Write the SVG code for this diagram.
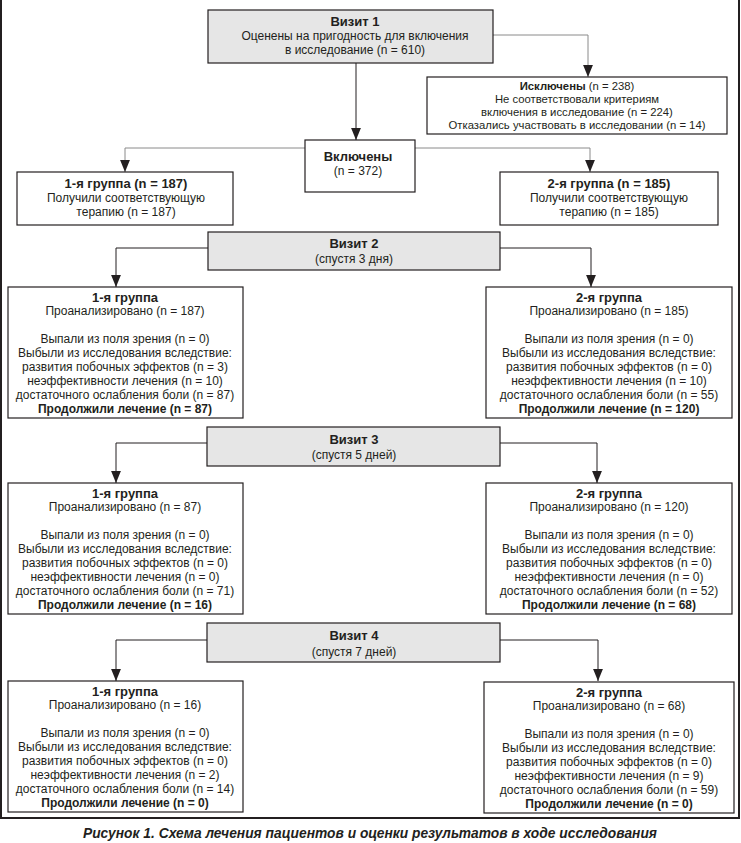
<svg xmlns="http://www.w3.org/2000/svg" width="741" height="843" viewBox="0 0 741 843">
<style>
.frame{fill:none;stroke:#231f20;stroke-width:2}
.box{fill:#fff;stroke:#231f20;stroke-width:1.2}
.visit{fill:#e6e6e6;stroke:#231f20;stroke-width:1.2}
text{font-family:"Liberation Sans",Arial,sans-serif;font-size:12px;fill:#231f20;text-anchor:middle}
.b{font-weight:bold;font-size:13px}
.p{font-weight:bold}
.s{font-size:11.3px}
.cap{font-weight:bold;font-style:italic;font-size:13.8px}
.c{fill:none;stroke:#231f20;stroke-width:1}
.g{fill:none;stroke:#8a8a8a;stroke-width:1}
</style>
<defs>
<marker id="ad" markerUnits="userSpaceOnUse" markerWidth="10" markerHeight="12" refX="4.5" refY="11" viewBox="0 0 9 11" orient="0">
<path d="M0,0 L9,0 L4.5,11 Z" fill="#231f20"/>
</marker>
</defs>
<rect class="frame" x="1" y="-2" width="738" height="820"/>

<g id="connectors">
<polyline class="g" points="493,35 588,35 588,77" marker-end="url(#ad)"/>
<polyline class="c" points="356,63 356,140" marker-end="url(#ad)"/>
<polyline class="g" points="305,148 125,148 125,172" marker-end="url(#ad)"/>
<polyline class="g" points="415,148 590,148 590,172" marker-end="url(#ad)"/>
<polyline class="c" points="208,248 116,248 116,287" marker-end="url(#ad)"/>
<polyline class="c" points="500,248 591,248 591,287" marker-end="url(#ad)"/>
<polyline class="c" points="207,443 116,443 116,483" marker-end="url(#ad)"/>
<polyline class="c" points="500,443 597,443 597,483" marker-end="url(#ad)"/>
<polyline class="c" points="207,640 116,640 116,681" marker-end="url(#ad)"/>
<polyline class="c" points="500,640 598,640 598,681" marker-end="url(#ad)"/>
</g>

<g id="visit1">
<rect class="visit" x="208" y="10" width="285" height="53"/>
<text x="355" y="26" class="b">Визит 1</text>
<text x="355" y="40">Оценены на пригодность для включения</text>
<text x="355" y="54">в исследование (n = 610)</text>
</g>

<g id="excluded">
<rect class="box" x="427" y="77" width="300" height="57"/>
<text x="577" y="90" class="s"><tspan font-weight="bold">Исключены</tspan> (n = 238)</text>
<text x="577" y="103" class="s">Не соответствовали критериям</text>
<text x="577" y="116" class="s">включения в исследование (n = 224)</text>
<text x="577" y="129" class="s">Отказались участвовать в исследовании (n = 14)</text>
</g>

<g id="included">
<rect class="box" x="305" y="140" width="110" height="52"/>
<text x="358" y="161" class="b">Включены</text>
<text x="358" y="175">(n = 372)</text>
</g>

<g id="group1">
<rect class="box" x="17" y="172" width="216" height="53"/>
<text x="126" y="188" class="b">1-я группа (n = 187)</text>
<text x="126" y="202">Получили соответствующую</text>
<text x="126" y="216">терапию (n = 187)</text>
</g>

<g id="group2">
<rect class="box" x="500" y="172" width="218" height="53"/>
<text x="609" y="188" class="b">2-я группа (n = 185)</text>
<text x="609" y="202">Получили соответствующую</text>
<text x="609" y="216">терапию (n = 185)</text>
</g>

<g id="visit2">
<rect class="visit" x="208" y="232" width="292" height="38"/>
<text x="354" y="248" class="b">Визит 2</text>
<text x="354" y="263">(спустя 3 дня)</text>
</g>

<g id="v2g1">
<rect class="box" x="8" y="287" width="235" height="131"/>
<text x="125" y="302" class="b">1-я группа</text>
<text x="125" y="315">Проанализировано (n = 187)</text>
<text x="125" y="343">Выпали из поля зрения (n = 0)</text>
<text x="125" y="357">Выбыли из исследования вследствие:</text>
<text x="125" y="371">развития побочных эффектов (n = 3)</text>
<text x="125" y="385">неэффективности лечения (n = 10)</text>
<text x="125" y="399">достаточного ослабления боли (n = 87)</text>
<text x="125" y="413" class="p">Продолжили лечение (n = 87)</text>
</g>

<g id="v2g2">
<rect class="box" x="486" y="287" width="246" height="131"/>
<text x="609" y="302" class="b">2-я группа</text>
<text x="609" y="315">Проанализировано (n = 185)</text>
<text x="609" y="343">Выпали из поля зрения (n = 0)</text>
<text x="609" y="357">Выбыли из исследования вследствие:</text>
<text x="609" y="371">развития побочных эффектов (n = 0)</text>
<text x="609" y="385">неэффективности лечения (n = 10)</text>
<text x="609" y="399">достаточного ослабления боли (n = 55)</text>
<text x="609" y="413" class="p">Продолжили лечение (n = 120)</text>
</g>

<g id="visit3">
<rect class="visit" x="207" y="427" width="293" height="39"/>
<text x="354" y="444" class="b">Визит 3</text>
<text x="354" y="459">(спустя 5 дней)</text>
</g>

<g id="v3g1">
<rect class="box" x="8" y="483" width="235" height="131"/>
<text x="125" y="498" class="b">1-я группа</text>
<text x="125" y="511">Проанализировано (n = 87)</text>
<text x="125" y="539">Выпали из поля зрения (n = 0)</text>
<text x="125" y="553">Выбыли из исследования вследствие:</text>
<text x="125" y="567">развития побочных эффектов (n = 0)</text>
<text x="125" y="581">неэффективности лечения (n = 0)</text>
<text x="125" y="595">достаточного ослабления боли (n = 71)</text>
<text x="125" y="609" class="p">Продолжили лечение (n = 16)</text>
</g>

<g id="v3g2">
<rect class="box" x="486" y="483" width="246" height="131"/>
<text x="609" y="498" class="b">2-я группа</text>
<text x="609" y="511">Проанализировано (n = 120)</text>
<text x="609" y="539">Выпали из поля зрения (n = 0)</text>
<text x="609" y="553">Выбыли из исследования вследствие:</text>
<text x="609" y="567">развития побочных эффектов (n = 0)</text>
<text x="609" y="581">неэффективности лечения (n = 0)</text>
<text x="609" y="595">достаточного ослабления боли (n = 52)</text>
<text x="609" y="609" class="p">Продолжили лечение (n = 68)</text>
</g>

<g id="visit4">
<rect class="visit" x="207" y="623" width="293" height="39"/>
<text x="354" y="640" class="b">Визит 4</text>
<text x="354" y="656">(спустя 7 дней)</text>
</g>

<g id="v4g1">
<rect class="box" x="8" y="681" width="235" height="131"/>
<text x="125" y="696" class="b">1-я группа</text>
<text x="125" y="709">Проанализировано (n = 16)</text>
<text x="125" y="737">Выпали из поля зрения (n = 0)</text>
<text x="125" y="751">Выбыли из исследования вследствие:</text>
<text x="125" y="765">развития побочных эффектов (n = 0)</text>
<text x="125" y="779">неэффективности лечения (n = 2)</text>
<text x="125" y="793">достаточного ослабления боли (n = 14)</text>
<text x="125" y="807" class="p">Продолжили лечение (n = 0)</text>
</g>

<g id="v4g2">
<rect class="box" x="484" y="682" width="250" height="131"/>
<text x="609" y="697" class="b">2-я группа</text>
<text x="609" y="710">Проанализировано (n = 68)</text>
<text x="609" y="738">Выпали из поля зрения (n = 0)</text>
<text x="609" y="752">Выбыли из исследования вследствие:</text>
<text x="609" y="766">развития побочных эффектов (n = 0)</text>
<text x="609" y="780">неэффективности лечения (n = 9)</text>
<text x="609" y="794">достаточного ослабления боли (n = 59)</text>
<text x="609" y="808" class="p">Продолжили лечение (n = 0)</text>
</g>

<text class="cap" x="370" y="838">Рисунок 1. Схема лечения пациентов и оценки результатов в ходе исследования</text>
</svg>
